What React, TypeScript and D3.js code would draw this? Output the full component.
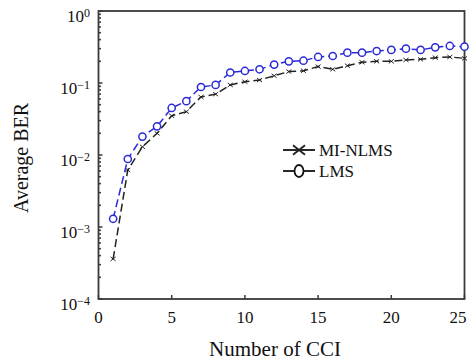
import React from "react";
import * as d3 from "d3";

const cci = [1,2,3,4,5,6,7,8,9,10,11,12,13,14,15,16,17,18,19,20,21,22,23,24,25];
const lmsBer = [0.0013,0.0088,0.018,0.025,0.045,0.056,0.088,0.094,0.14,0.147,0.155,0.18,0.2,0.204,0.23,0.237,0.264,0.264,0.278,0.288,0.3,0.288,0.313,0.327,0.32];
const miNlmsBer = [0.00036,0.0062,0.013,0.02,0.035,0.04,0.064,0.07,0.094,0.104,0.11,0.126,0.144,0.148,0.169,0.155,0.174,0.194,0.2,0.2,0.209,0.213,0.225,0.23,0.22];
const xTicks = [0,5,10,15,20,25];
const yExps = [0,-1,-2,-3,-4];
const seriesNames = ["MI-NLMS","LMS"];

const W = 471, H = 362;
const L = 98.5, R = 464.5, T = 11, B = 299;
const FONT = "Liberation Serif, Times New Roman, DejaVu Serif, serif";
const BLUE = "#2a2ad8";
const AX = "#3a3a3a";
const ts = { fontFamily: FONT };

export default function App() {
  const x = d3.scaleLinear().domain([0,25]).range([L,R]);
  const y = d3.scaleLog().domain([1e-4,1]).range([B,T]);
  const line = d3.line<number>().x((_,i)=>x(cci[i])).y(d=>y(d));
  const minor: number[] = [];
  for (let e=-4;e<0;e++) for (let m=2;m<=9;m++) minor.push(m*Math.pow(10,e));
  const xm = (cx:number, cy:number, s:number, k:string, w=1) => (
    <g key={k} stroke="#222" strokeWidth={w}>
      <line x1={cx-s} y1={cy-s*0.8} x2={cx+s} y2={cy+s*0.8}/>
      <line x1={cx-s} y1={cy+s*0.8} x2={cx+s} y2={cy-s*0.8}/>
    </g>
  );
  return (
    <svg width={W} height={H} style={{position:"absolute",left:0,top:0,background:"#fff"}}>
      <rect x={0} y={0} width={W} height={H} fill="#fff"/>
      <rect x={L} y={T} width={R-L} height={B-T} fill="none" stroke={AX} strokeWidth={1.8}/>
      {xTicks.map(t=>(
        <g key={"xt"+t}>
          <line x1={x(t)} x2={x(t)} y1={B} y2={B-4} stroke={AX} strokeWidth={1.5}/>
          <text x={Math.min(x(t), W - 13)} y={323} fontSize={17} textAnchor="middle" fill="#111" style={ts}>{t}</text>
        </g>
      ))}
      {minor.map((v,i)=>(
        <line key={"mn"+i} x1={L} x2={L+2.5} y1={y(v)} y2={y(v)} stroke={AX} strokeWidth={1.5}/>
      ))}
      {yExps.map(e=>(
        <g key={"yt"+e}>
          <line x1={L} x2={L+4} y1={y(Math.pow(10,e))} y2={y(Math.pow(10,e))} stroke={AX} strokeWidth={1.5}/>
          <text x={90} y={y(Math.pow(10,e))+11} fontSize={17} textAnchor="end" fill="#111" style={ts}>
            10<tspan fontSize={12} dy={-5}>{e===0?"0":"\u2212"+(-e)}</tspan>
          </text>
        </g>
      ))}
      <path d={line(miNlmsBer)!} fill="none" stroke="#222" strokeWidth={1.5} strokeDasharray="8,4"/>
      {miNlmsBer.map((v,i)=>xm(x(cci[i]),y(v),2.5,"m"+i))}
      <path d={line(lmsBer)!} fill="none" stroke={BLUE} strokeWidth={1.5} strokeDasharray="8,4"/>
      {lmsBer.map((v,i)=>(
        <circle key={"c"+i} cx={x(cci[i])} cy={y(v)} r={3.6} fill="#fff" stroke={BLUE} strokeWidth={1.5}/>
      ))}
      <line x1={283} x2={315} y1={150} y2={150} stroke="#111" strokeWidth={1.8}/>
      {xm(299,150,6,"lg",1.8)}
      <text x={319} y={155.5} fontSize={17} fill="#111" style={ts}>{seriesNames[0]}</text>
      <line x1={283} x2={315} y1={171} y2={171} stroke="#111" strokeWidth={1.8}/>
      <ellipse cx={299} cy={171} rx={4.5} ry={6} fill="#fff" stroke="#111" strokeWidth={1.8}/>
      <text x={319} y={177} fontSize={17} fill="#111" style={ts}>{seriesNames[1]}</text>
      <text x={275} y={356} fontSize={21} textAnchor="middle" fill="#111" style={ts}>Number of CCI</text>
      <text transform="translate(28,158) rotate(-90)" fontSize={20} textAnchor="middle" fill="#111" style={ts}>Average BER</text>
    </svg>
  );
}
